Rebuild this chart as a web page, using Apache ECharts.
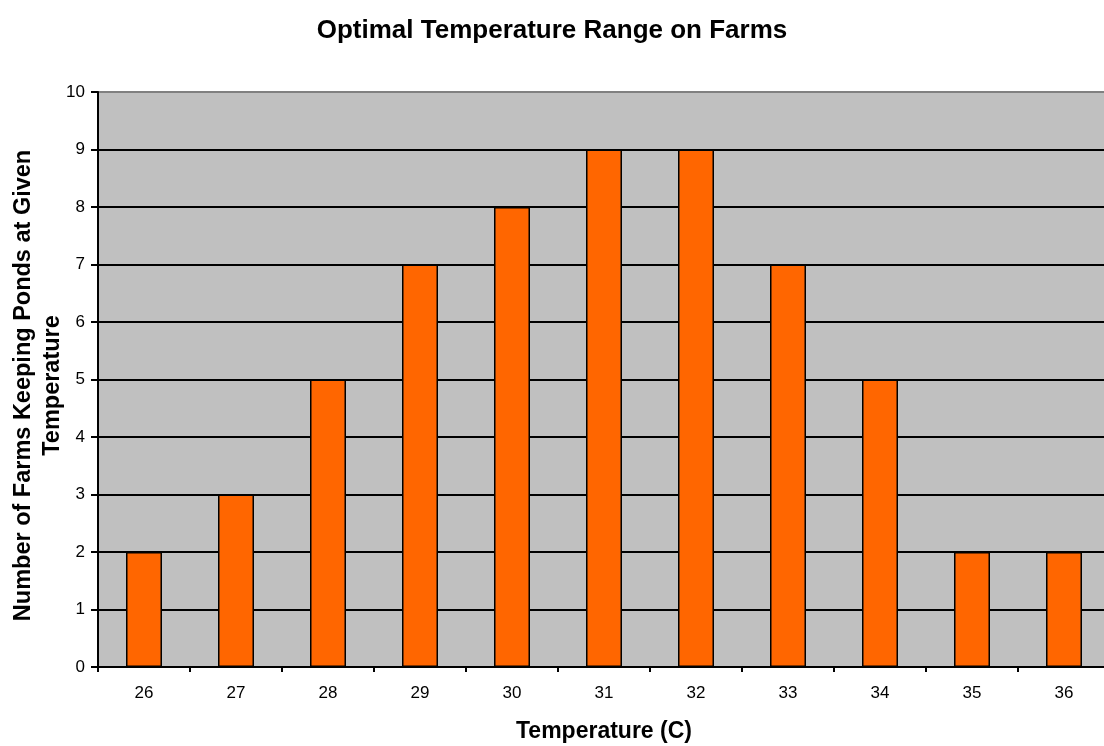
<!DOCTYPE html>
<html>
<head>
<meta charset="utf-8">
<script src="https://cdn.jsdelivr.net/npm/echarts@6/dist/echarts.min.js"></script>
<style>
html,body{margin:0;padding:0;background:#fff;}
#chart{width:1104px;height:746px;}
</style>
</head>
<body>
<div id="chart"></div>
<script>
var categories = ['26','27','28','29','30','31','32','33','34','35','36'];
var farmCounts = [2, 3, 5, 7, 8, 9, 9, 7, 5, 2, 2];
var yTicks = [0,1,2,3,4,5,6,7,8,9,10];

var FONT = '"Liberation Sans", Arial, sans-serif';
var splitColors = yTicks.map(function (v, i) { return i === yTicks.length - 1 ? '#808080' : '#000000'; });

var chart = echarts.init(document.getElementById('chart'), null, {renderer: 'canvas'});
chart.setOption({
  backgroundColor: '#ffffff',
  animation: false,
  title: {
    text: 'Optimal Temperature Range on Farms',
    left: 'center',
    top: 13,
    textStyle: {fontFamily: FONT, fontSize: 26, fontWeight: 'bold', color: '#000'}
  },
  grid: {
    left: 98, right: -6, top: 92, bottom: 79,
    outerBoundsMode: 'none',
    containLabel: false,
    show: true, backgroundColor: '#C0C0C0', borderColor: '#808080', borderWidth: 2
  },
  xAxis: {
    type: 'category',
    data: categories,
    name: 'Temperature (C)',
    nameLocation: 'middle',
    nameGap: 53,
    nameMoveOverlap: false,
    nameTextStyle: {fontFamily: FONT, fontSize: 23, fontWeight: 'bold', color: '#000'},
    axisLine: {show: true, lineStyle: {color: '#000', width: 2}},
    axisTick: {show: true, alignWithLabel: false, length: 5, lineStyle: {color: '#000', width: 2}},
    axisLabel: {fontFamily: FONT, fontSize: 17, color: '#000', margin: 18},
    splitLine: {show: false}
  },
  yAxis: {
    type: 'value',
    min: 0, max: 10, interval: 1,
    name: 'Number of Farms Keeping Ponds at Given\nTemperature',
    nameLocation: 'middle',
    nameGap: 31,
    nameMoveOverlap: false,
    nameTextStyle: {fontFamily: FONT, fontSize: 23.5, fontWeight: 'bold', color: '#000', lineHeight: 29, align: 'center', padding: [0, 12, 0, 0]},
    axisLine: {show: true, lineStyle: {color: '#000', width: 2}},
    axisTick: {show: true, length: 7, lineStyle: {color: '#000', width: 2}},
    axisLabel: {fontFamily: FONT, fontSize: 17, color: '#000', margin: 13},
    splitLine: {show: true, lineStyle: {color: splitColors, width: 2}}
  },
  series: [{
    type: 'bar',
    data: farmCounts,
    barWidth: 36,
    itemStyle: {color: '#FF6600', borderColor: '#000', borderWidth: 1.5}
  }]
});
</script>
</body>
</html>
